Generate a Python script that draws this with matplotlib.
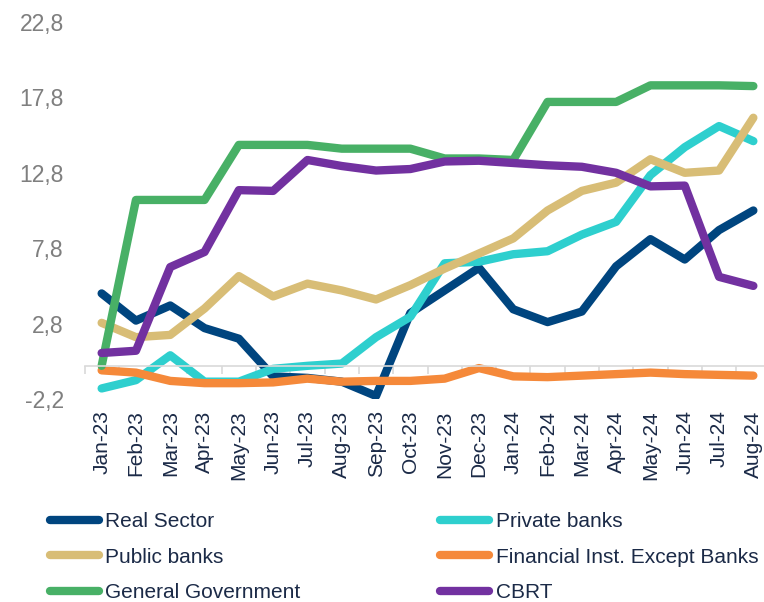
import numpy as np
import matplotlib
matplotlib.use("Agg")
import matplotlib.pyplot as plt

months = ["Jan-23", "Feb-23", "Mar-23", "Apr-23", "May-23", "Jun-23", "Jul-23",
          "Aug-23", "Sep-23", "Oct-23", "Nov-23", "Dec-23", "Jan-24", "Feb-24",
          "Mar-24", "Apr-24", "May-24", "Jun-24", "Jul-24", "Aug-24"]

real_sector = [4.8, 3.0, 4.0, 2.5, 1.8, -0.7, -0.8, -1.05, -2.0, 3.5, 5.0, 6.5,
               3.75, 2.9, 3.6, 6.6, 8.4, 7.05, 9.0, 10.3]
private_banks = [-1.5, -0.95, 0.7, -1.05, -1.05, -0.2, 0.0, 0.15, 1.9, 3.25, 6.8,
                 6.9, 7.4, 7.6, 8.7, 9.55, 12.65, 14.5, 15.9, 14.9]
public_banks = [2.85, 1.9, 2.05, 3.8, 5.95, 4.6, 5.45, 5.0, 4.4, 5.35, 6.45,
                7.45, 8.45, 10.3, 11.6, 12.15, 13.7, 12.8, 12.95, 16.45]
fin_inst = [-0.3, -0.45, -1.0, -1.15, -1.15, -1.1, -0.85, -1.05, -1.0, -1.0,
            -0.85, -0.15, -0.7, -0.75, -0.65, -0.55, -0.45, -0.55, -0.6, -0.65]
general_gov = [0.0, 11.0, 11.0, 11.0, 14.65, 14.65, 14.65, 14.4, 14.4, 14.4,
               13.75, 13.75, 13.65, 17.5, 17.5, 17.5, 18.6, 18.6, 18.6, 18.55]
cbrt = [0.85, 1.0, 6.55, 7.55, 11.65, 11.6, 13.65, 13.25, 12.95, 13.05, 13.55,
        13.6, 13.45, 13.3, 13.2, 12.8, 11.9, 11.95, 5.9, 5.3]

series = [
    ("Real Sector", real_sector, "#00457F"),
    ("Private banks", private_banks, "#2ECFCE"),
    ("Public banks", public_banks, "#D8BD76"),
    ("Financial Inst. Except Banks", fin_inst, "#F5893A"),
    ("General Government", general_gov, "#48B066"),
    ("CBRT", cbrt, "#7231A0"),
]

yticks = [-2.2, 2.8, 7.8, 12.8, 17.8, 22.8]
ytick_labels = ["-2,2", "2,8", "7,8", "12,8", "17,8", "22,8"]

plt.rcParams["font.family"] = ["Liberation Sans", "DejaVu Sans"]

fig = plt.figure(figsize=(7.64, 6.02), dpi=100)
ax = fig.add_axes([84.5 / 764, 1 - 399 / 602, 686 / 764, 377 / 602])

x = np.arange(len(months))
lines = {}
for name, vals, col in series:
    ln, = ax.plot(x, vals, color=col, lw=6, solid_capstyle="round",
                  solid_joinstyle="round", label=name)
    lines[name] = ln

ax.set_xlim(-0.5, len(months) - 0.5)
ax.set_ylim(-2.2, 22.8)

# y axis: labels only
ax.spines["left"].set_visible(False)
ax.spines["right"].set_visible(False)
ax.spines["top"].set_visible(False)
ax.set_yticks(yticks)
ax.set_yticklabels(ytick_labels)
ax.tick_params(axis="y", length=0, pad=15, labelsize=16.5, labelcolor="#7F7F7F")

# x axis sits on zero, month labels hang below the plot
ax.spines["bottom"].set_position(("data", 0))
ax.spines["bottom"].set_color("#D9D9D9")
ax.spines["bottom"].set_linewidth(1.2)
ax.set_xticks(x)
ax.set_xticklabels(months, rotation=90)
ax.tick_params(axis="x", which="major", length=0, pad=32, labelsize=15,
               labelcolor="#1B2A47")
ax.set_xticks(np.arange(len(months) + 1) - 0.5, minor=True)
ax.tick_params(axis="x", which="minor", length=6, width=1.2, color="#D9D9D9",
               direction="out")

order = ["Real Sector", "Public banks", "General Government",
         "Private banks", "Financial Inst. Except Banks", "CBRT"]
leg = fig.legend([lines[n] for n in order], order, ncol=2, loc="upper left",
                 bbox_to_anchor=(50 / 764, 1 - 512 / 602), frameon=False,
                 fontsize=15, handlelength=2.36, handletextpad=0.3,
                 columnspacing=6.7, labelspacing=0.8, borderpad=0,
                 borderaxespad=0)
for t in leg.get_texts():
    t.set_color("#1B2A47")

fig.savefig("out.png", dpi=100)
